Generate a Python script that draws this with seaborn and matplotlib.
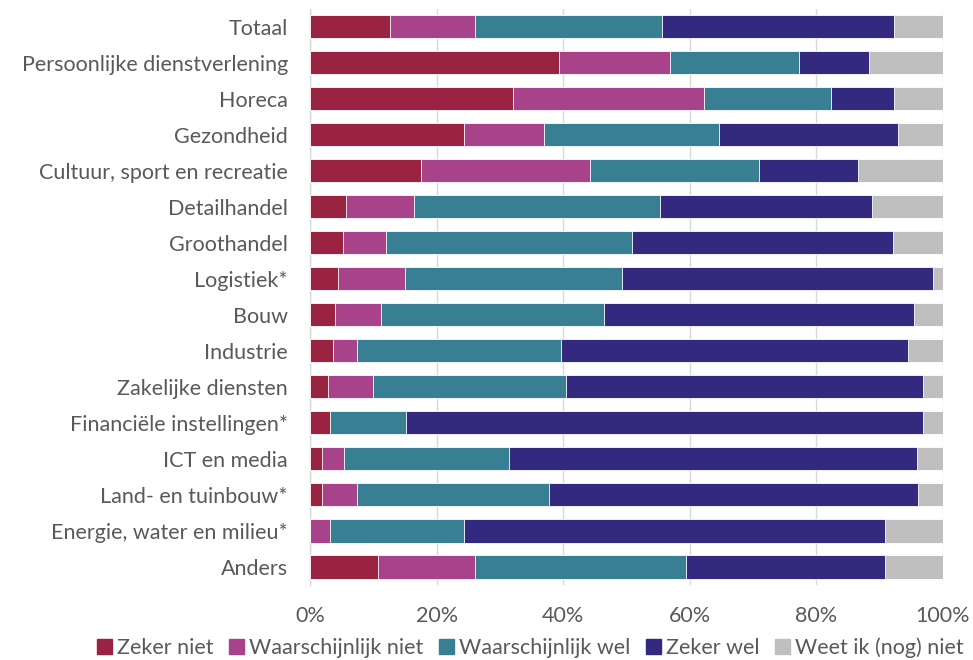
import numpy as np
import pandas as pd
import matplotlib.pyplot as plt
import matplotlib.patches as mpatches
import seaborn as sns

# categories, top to bottom
sectors = ["Totaal", "Persoonlijke dienstverlening", "Horeca", "Gezondheid",
           "Cultuur, sport en recreatie", "Detailhandel", "Groothandel",
           "Logistiek*", "Bouw", "Industrie", "Zakelijke diensten",
           "Financiële instellingen*", "ICT en media", "Land- en tuinbouw*",
           "Energie, water en milieu*", "Anders"]

# shares in %
zeker_niet = [12.7, 39.4, 32.1, 24.3, 17.5, 5.7, 5.2, 4.4, 3.9, 3.7, 2.9, 3.2, 1.9, 1.9, 0.0, 10.8]
waarsch_niet = [13.3, 17.4, 30.1, 12.6, 26.7, 10.8, 6.8, 10.6, 7.3, 3.7, 7.1, 0.0, 3.5, 5.5, 3.2, 15.2]
waarsch_wel = [29.6, 20.5, 20.1, 27.7, 26.7, 38.8, 38.8, 34.3, 35.3, 32.3, 30.5, 12.0, 26.0, 30.3, 21.2, 33.4]
zeker_wel = [36.7, 11.0, 10.0, 28.3, 15.7, 33.5, 41.3, 49.1, 48.9, 54.7, 56.3, 81.6, 64.5, 58.4, 66.4, 31.4]
weet_niet = [7.7, 11.7, 7.7, 7.1, 13.4, 11.2, 7.9, 1.6, 4.6, 5.6, 3.2, 3.2, 4.1, 3.9, 9.2, 9.2]

series_names = ["Zeker niet", "Waarschijnlijk niet", "Waarschijnlijk wel",
                "Zeker wel", "Weet ik (nog) niet"]
colors = ["#9B2342", "#A8428A", "#387F94", "#33297F", "#BFBFBF"]

df = pd.DataFrame({
    "sector": sectors,
    series_names[0]: zeker_niet,
    series_names[1]: waarsch_niet,
    series_names[2]: waarsch_wel,
    series_names[3]: zeker_wel,
    series_names[4]: weet_niet,
})
cum = df[series_names].cumsum(axis=1)

sns.set_theme(style="white")
plt.rcParams["font.family"] = ["Lato", "DejaVu Sans"]
text_grey = "#595959"

fig = plt.figure(figsize=(9.73, 6.6), dpi=100)
ax = fig.add_axes([0.3186, 0.1136, 0.6506, 0.8735])

# stacked bars: draw the cumulative totals from right to left
for name, col in reversed(list(zip(series_names, colors))):
    sns.barplot(x=cum[name], y=df["sector"], orient="h", color=col,
                width=0.64, edgecolor="white", linewidth=0.6,
                saturation=1, ax=ax, zorder=3)

ax.set_xlim(0, 100)
ax.set_ylim(15.5, -0.5)
ax.set_xticks(np.arange(0, 101, 20))
ax.set_xticklabels([f"{v}%" for v in range(0, 101, 20)])
ax.set_xlabel("")
ax.set_ylabel("")
ax.grid(axis="x", color="#D9D9D9", linewidth=1, zorder=0)
ax.grid(axis="y", visible=False)
for s in ["top", "right", "bottom"]:
    ax.spines[s].set_visible(False)
ax.spines["left"].set_color("#D9D9D9")
ax.spines["left"].set_linewidth(1)
ax.tick_params(axis="both", length=0, labelsize=15.5, labelcolor=text_grey)
ax.tick_params(axis="x", pad=15)
ax.tick_params(axis="y", pad=16)

handles = [mpatches.Patch(color=c, label=n) for n, c in zip(series_names, colors)]
fig.legend(handles=handles, loc="center", bbox_to_anchor=(0.545, 0.018),
           ncol=5, frameon=False, fontsize=15.5, labelcolor=text_grey,
           handlelength=0.7, handleheight=0.7, handletextpad=0.25,
           columnspacing=0.7, borderaxespad=0)

fig.savefig("out.png", dpi=100)
